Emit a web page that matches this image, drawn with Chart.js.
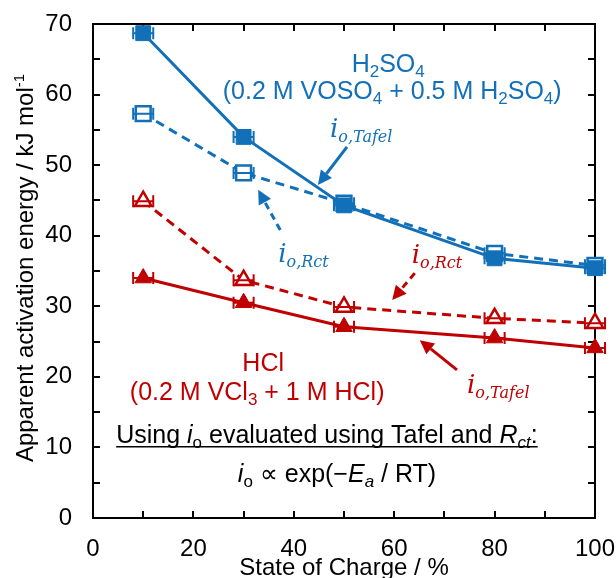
<!DOCTYPE html>
<html>
<head>
    <meta charset="utf-8" />
    <title>Apparent activation energy vs State of Charge</title>
    <script src="https://cdn.jsdelivr.net/npm/chart.js"></script>
    <style>
        html, body {
            margin: 0;
            padding: 0;
            background: #fff;
        }
        #grafico {
            display: block;
        }
    </style>
</head>
<body>
    <canvas id="grafico" width="616" height="578"></canvas>
    <script>
        // valores
        const soc = [10, 30, 50, 80, 100];
        const socErr = [2, 2, 2, 2, 2];
        const h2so4Tafel = [68.7, 54.0, 44.3, 36.8, 35.4];
        const h2so4Rct = [57.3, 48.9, 44.6, 37.5, 35.8];
        const hclRct = [44.9, 33.7, 29.9, 28.3, 27.6];
        const hclTafel = [34.0, 30.5, 27.1, 25.5, 24.1];

        const xMin = 0, xMax = 100, xStep = 10, xLabelStep = 20;
        const yMin = 0, yMax = 70, yStep = 5, yLabelStep = 10;

        const BLUE = "#1270b8";
        const RED = "#c00000";
        const SANS = '"Liberation Sans", Arial, sans-serif';
        const SERIF = '"DejaVu Serif", serif';

        const st = {
            r: { font: "25px " + SANS, dy: 0 },
            sub: { font: "17px " + SANS, dy: 5 },
            t: { font: "24px " + SANS, dy: 0 },
            sup: { font: "15px " + SANS, dy: -9 },
            it: { font: "italic 25px " + SANS, dy: 0 },
            itsub: { font: "italic 17px " + SANS, dy: 5 },
            mi: { font: "italic 26px " + SERIF, dy: 0 },
            misub: { font: "italic 16px " + SERIF, dy: 5 }
        };

        // textos y flechas (coordenadas en unidades de datos)
        const notas = [
            { x: 58.8, y: 63.2, color: BLUE, align: "center", parts: [["H", "r"], ["2", "sub"], ["SO", "r"], ["4", "sub"]] },
            { x: 59.6, y: 59.4, color: BLUE, align: "center", parts: [["(0.2 M VOSO", "r"], ["4", "sub"], [" + 0.5 M H", "r"], ["2", "sub"], ["SO", "r"], ["4", "sub"], [")", "r"]] },
            { x: 47.2, y: 54.0, color: BLUE, align: "left", parts: [["i", "mi"], ["o,Tafel", "misub"]] },
            { x: 36.9, y: 36.3, color: BLUE, align: "left", parts: [["i", "mi"], ["o,Rct", "misub"]] },
            { x: 63.5, y: 36.1, color: RED, align: "left", parts: [["i", "mi"], ["o,Rct", "misub"]] },
            { x: 74.5, y: 17.7, color: RED, align: "left", parts: [["i", "mi"], ["o,Tafel", "misub"]] },
            { x: 33.9, y: 20.8, color: RED, align: "center", parts: [["HCl", "r"]] },
            { x: 32.7, y: 16.7, color: RED, align: "center", parts: [["(0.2 M VCl", "r"], ["3", "sub"], [" + 1 M HCl)", "r"]] },
            { x: 46.6, y: 10.6, color: "#000", align: "center", underline: true, parts: [["Using ", "r"], ["i", "it"], ["o", "sub"], [" evaluated using Tafel and ", "r"], ["R", "it"], ["ct", "itsub"], [":", "r"]] },
            { x: 48.6, y: 5.1, color: "#000", align: "center", parts: [["i", "it"], ["o", "sub"], [" \u221D exp(\u2212", "r"], ["E", "it"], ["a", "itsub"], [" / RT)", "r"]] }
        ];

        const flechas = [
            { from: [50.6, 52.6], to: [44.8, 47.2], color: BLUE, dashed: false },
            { from: [37.3, 40.8], to: [32.9, 46.5], color: BLUE, dashed: true },
            { from: [64.1, 34.7], to: [59.6, 30.9], color: RED, dashed: true },
            { from: [72.5, 21.0], to: [65.1, 25.2], color: RED, dashed: false }
        ];

        function puntos(ys) {
            return soc.map((x, i) => ({ x: x, y: ys[i] }));
        }

        function drawRich(ctx, parts, x, y, align) {
            let w = 0;
            const items = parts.map(p => {
                const s = st[p[1]];
                ctx.font = s.font;
                const pw = ctx.measureText(p[0]).width;
                w += pw;
                return { t: p[0], s: s, w: pw };
            });
            let cx = align === "center" ? x - w / 2 : x;
            const left = cx;
            items.forEach(it => {
                ctx.font = it.s.font;
                ctx.fillText(it.t, cx, y + it.s.dy);
                cx += it.w;
            });
            return { left: left, right: cx };
        }

        const marco = {
            id: "marco",
            beforeDatasetsDraw(chart) {
                const { ctx, chartArea: a, scales: { x, y } } = chart;
                ctx.save();
                ctx.strokeStyle = "#000";
                ctx.lineWidth = 2;
                ctx.strokeRect(a.left, a.top, a.right - a.left, a.bottom - a.top);
                const tl = 7;
                ctx.beginPath();
                x.ticks.forEach(t => {
                    const px = Math.round(x.getPixelForValue(t.value));
                    ctx.moveTo(px, a.bottom); ctx.lineTo(px, a.bottom - tl);
                    ctx.moveTo(px, a.top); ctx.lineTo(px, a.top + tl);
                });
                y.ticks.forEach(t => {
                    const py = Math.round(y.getPixelForValue(t.value));
                    ctx.moveTo(a.left, py); ctx.lineTo(a.left + tl, py);
                    ctx.moveTo(a.right, py); ctx.lineTo(a.right - tl, py);
                });
                ctx.stroke();

                // titulo eje y con superindice
                ctx.fillStyle = "#000";
                ctx.textBaseline = "alphabetic";
                ctx.translate(33, (a.top + a.bottom) / 2 - 3);
                ctx.rotate(-Math.PI / 2);
                drawRich(ctx, [["Apparent activation energy / kJ mol", "t"], ["-1", "sup"]], 0, 0, "center");
                ctx.restore();
            },
            afterDatasetsDraw(chart) {
                const { ctx, scales: { x, y } } = chart;
                ctx.save();
                // barras de error horizontales
                chart.data.datasets.forEach(ds => {
                    ctx.strokeStyle = ds.borderColor;
                    ctx.lineWidth = 2;
                    ctx.setLineDash([]);
                    ds.data.forEach((p, i) => {
                        const x1 = x.getPixelForValue(p.x - socErr[i]);
                        const x2 = x.getPixelForValue(p.x + socErr[i]);
                        const py = y.getPixelForValue(p.y);
                        ctx.beginPath();
                        ctx.moveTo(x1, py); ctx.lineTo(x2, py);
                        ctx.moveTo(x1, py - 6); ctx.lineTo(x1, py + 6);
                        ctx.moveTo(x2, py - 6); ctx.lineTo(x2, py + 6);
                        ctx.stroke();
                    });
                });

                // flechas
                flechas.forEach(f => {
                    const x1 = x.getPixelForValue(f.from[0]), y1 = y.getPixelForValue(f.from[1]);
                    const x2 = x.getPixelForValue(f.to[0]), y2 = y.getPixelForValue(f.to[1]);
                    const ang = Math.atan2(y2 - y1, x2 - x1);
                    const hl = 14, hw = 7;
                    const bx = x2 - Math.cos(ang) * hl, by = y2 - Math.sin(ang) * hl;
                    ctx.strokeStyle = f.color;
                    ctx.fillStyle = f.color;
                    ctx.lineWidth = 3;
                    ctx.setLineDash(f.dashed ? [7, 5] : []);
                    ctx.beginPath();
                    ctx.moveTo(x1, y1); ctx.lineTo(bx, by);
                    ctx.stroke();
                    ctx.setLineDash([]);
                    ctx.beginPath();
                    ctx.moveTo(x2, y2);
                    ctx.lineTo(bx + Math.sin(ang) * hw, by - Math.cos(ang) * hw);
                    ctx.lineTo(bx - Math.sin(ang) * hw, by + Math.cos(ang) * hw);
                    ctx.closePath();
                    ctx.fill();
                });

                // textos
                ctx.textBaseline = "alphabetic";
                notas.forEach(n => {
                    ctx.fillStyle = n.color;
                    const px = x.getPixelForValue(n.x), py = y.getPixelForValue(n.y);
                    const r = drawRich(ctx, n.parts, px, py, n.align);
                    if (n.underline) {
                        ctx.strokeStyle = n.color;
                        ctx.lineWidth = 1.5;
                        ctx.beginPath();
                        ctx.moveTo(r.left, py + 3.5); ctx.lineTo(r.right, py + 3.5);
                        ctx.stroke();
                    }
                });
                ctx.restore();
            }
        };

        const serie = (label, ys, color, dashed, style, filled) => ({
            label: label,
            data: puntos(ys),
            showLine: true,
            borderColor: color,
            borderWidth: 3,
            borderDash: dashed ? [9, 6] : [],
            pointStyle: style,
            pointRadius: style === "rect" ? 10.5 : 9.5,
            pointBorderWidth: filled ? 1 : 2.5,
            pointBackgroundColor: filled ? color : "#fff",
            pointBorderColor: color,
            clip: false
        });

        new Chart(document.getElementById("grafico"), {
            type: "scatter",
            data: {
                datasets: [
                    serie("H2SO4 io,Tafel", h2so4Tafel, BLUE, false, "rect", true),
                    serie("H2SO4 io,Rct", h2so4Rct, BLUE, true, "rect", false),
                    serie("HCl io,Rct", hclRct, RED, true, "triangle", false),
                    serie("HCl io,Tafel", hclTafel, RED, false, "triangle", true)
                ]
            },
            options: {
                responsive: false,
                animation: false,
                devicePixelRatio: 1,
                layout: { padding: { left: 0, right: 21, top: 24, bottom: 0 } },
                plugins: {
                    legend: { display: false },
                    tooltip: { enabled: false }
                },
                scales: {
                    x: {
                        type: "linear",
                        min: xMin,
                        max: xMax,
                        grid: { display: false, drawTicks: false },
                        border: { display: false },
                        ticks: {
                            stepSize: xStep,
                            autoSkip: false,
                            maxRotation: 0,
                            padding: 17,
                            color: "#000",
                            font: { family: SANS, size: 24 },
                            callback: v => (v % xLabelStep === 0 ? v : "")
                        },
                        title: {
                            display: true,
                            text: "State of Charge / %",
                            color: "#000",
                            font: { family: SANS, size: 24, lineHeight: "20px" },
                            padding: 0
                        },
                        afterFit: s => {
                            s.height = 60;
                            s.paddingLeft = 0;
                            s.paddingRight = 0;
                        }
                    },
                    y: {
                        type: "linear",
                        min: yMin,
                        max: yMax,
                        grid: { display: false, drawTicks: false },
                        border: { display: false },
                        ticks: {
                            stepSize: yStep,
                            autoSkip: false,
                            padding: 21,
                            color: "#000",
                            font: { family: SANS, size: 24 },
                            callback: v => (v % yLabelStep === 0 ? v : "")
                        },
                        afterFit: s => {
                            s.width = 93;
                            s.paddingTop = 0;
                            s.paddingBottom = 0;
                        }
                    }
                }
            },
            plugins: [marco]
        });
    </script>
</body>
</html>
